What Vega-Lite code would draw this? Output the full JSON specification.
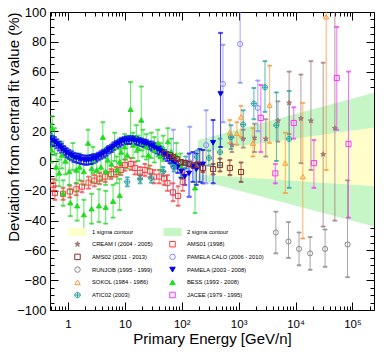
{
 "$schema": "https://vega.github.io/schema/vega-lite/v6.json",
 "width": 324, "height": 298,
 "autosize": {"type": "none"},
 "padding": {"left": 50, "top": 12, "right": 12, "bottom": 42},
 "background": "white",
 "config": {
  "view": {"stroke": "black", "strokeWidth": 1},
  "font": "Liberation Sans",
  "axis": {"domain": false, "grid": false, "labelFont": "Liberation Sans", "titleFont": "Liberation Sans", "titleFontWeight": "normal", "tickColor": "black", "labelColor": "black", "titleColor": "black", "labelOverlap": false, "labelFlush": false, "labelBound": false},
  "legend": {"orient": "none", "direction": "vertical", "gridAlign": "all", "legendX": 24, "legendY": 216, "columns": 2, "labelFontSize": 5.8, "labelFont": "Liberation Sans", "labelColor": "black", "symbolSize": 30, "symbolStrokeWidth": 1, "rowPadding": 0.7, "columnPadding": -10, "labelOffset": 11, "padding": 0, "labelLimit": 200}
 },
 "datasets": {
  "bands": [
   {"s": "2 sigma contour", "e": 193, "lo": -12.5, "hi": 14},
   {"s": "2 sigma contour", "e": 238800, "lo": -44, "hi": 45.8},
   {"s": "1 sigma contour", "e": 193, "lo": -9, "hi": 6},
   {"s": "1 sigma contour", "e": 238800, "lo": -17, "hi": 22.4}
  ],
  "pts": [
   {"s": "AMS01 (1998)", "e": 0.55, "v": -16, "lo": -20, "hi": -12},
   {"s": "AMS01 (1998)", "e": 0.59, "v": -21.5, "lo": -26, "hi": -17},
   {"s": "AMS01 (1998)", "e": 0.82, "v": -22, "lo": -26, "hi": -18},
   {"s": "AMS01 (1998)", "e": 1.08, "v": -20.5, "lo": -24.5, "hi": -16.5},
   {"s": "AMS01 (1998)", "e": 1.4, "v": -19, "lo": -23, "hi": -15},
   {"s": "AMS01 (1998)", "e": 1.76, "v": -17.2, "lo": -21, "hi": -13.5},
   {"s": "AMS01 (1998)", "e": 2.3, "v": -14.5, "lo": -18.5, "hi": -10.5},
   {"s": "AMS01 (1998)", "e": 2.9, "v": -13.2, "lo": -17, "hi": -9.5},
   {"s": "AMS01 (1998)", "e": 3.6, "v": -11.8, "lo": -15.5, "hi": -8},
   {"s": "AMS01 (1998)", "e": 4.5, "v": -10.5, "lo": -14, "hi": -7},
   {"s": "AMS01 (1998)", "e": 5.7, "v": -8.7, "lo": -12, "hi": -5.5},
   {"s": "AMS01 (1998)", "e": 7, "v": -7.2, "lo": -10.5, "hi": -4},
   {"s": "AMS01 (1998)", "e": 8.5, "v": -6, "lo": -9.5, "hi": -2.5},
   {"s": "AMS01 (1998)", "e": 10, "v": -2.7, "lo": -6.5, "hi": 1},
   {"s": "AMS01 (1998)", "e": 12.8, "v": -2, "lo": -6, "hi": 2},
   {"s": "AMS01 (1998)", "e": 15, "v": -4.7, "lo": -9, "hi": -0.5},
   {"s": "AMS01 (1998)", "e": 18.5, "v": -8, "lo": -12, "hi": -4},
   {"s": "AMS01 (1998)", "e": 22.5, "v": -6, "lo": -10, "hi": -2},
   {"s": "AMS01 (1998)", "e": 27.5, "v": -7, "lo": -11, "hi": -3},
   {"s": "AMS01 (1998)", "e": 32.5, "v": -10.5, "lo": -15, "hi": -6},
   {"s": "AMS01 (1998)", "e": 40, "v": -10.5, "lo": -15, "hi": -6},
   {"s": "AMS01 (1998)", "e": 48.6, "v": -11.7, "lo": -16, "hi": -7},
   {"s": "AMS01 (1998)", "e": 56, "v": -14.8, "lo": -20, "hi": -9.5},
   {"s": "AMS01 (1998)", "e": 70, "v": -21, "lo": -27, "hi": -15},
   {"s": "AMS01 (1998)", "e": 86, "v": -23.5, "lo": -30, "hi": -17},
   {"s": "AMS01 (1998)", "e": 104, "v": -14, "lo": -20, "hi": -8},

   {"s": "BESS (1993 - 2008)", "e": 0.5, "v": 17, "lo": 9, "hi": 25},
   {"s": "BESS (1993 - 2008)", "e": 0.53, "v": 22, "lo": 14, "hi": 30},
   {"s": "BESS (1993 - 2008)", "e": 0.51, "v": 7.4, "lo": -1, "hi": 16},
   {"s": "BESS (1993 - 2008)", "e": 0.58, "v": 13, "lo": 4, "hi": 22},
   {"s": "BESS (1993 - 2008)", "e": 0.62, "v": -4, "lo": -13, "hi": 5},
   {"s": "BESS (1993 - 2008)", "e": 0.7, "v": -8, "lo": -17, "hi": 1},
   {"s": "BESS (1993 - 2008)", "e": 0.78, "v": 4, "lo": -5, "hi": 13},
   {"s": "BESS (1993 - 2008)", "e": 0.9, "v": 0, "lo": -9, "hi": 9},
   {"s": "BESS (1993 - 2008)", "e": 1.05, "v": -7, "lo": -16, "hi": 2},
   {"s": "BESS (1993 - 2008)", "e": 1.22, "v": 3, "lo": -6, "hi": 12},
   {"s": "BESS (1993 - 2008)", "e": 1.4, "v": -6, "lo": -15, "hi": 3},
   {"s": "BESS (1993 - 2008)", "e": 1.6, "v": -4, "lo": -13, "hi": 5},
   {"s": "BESS (1993 - 2008)", "e": 1.9, "v": -7, "lo": -16, "hi": 2},
   {"s": "BESS (1993 - 2008)", "e": 2.25, "v": 12, "lo": 3, "hi": 21},
   {"s": "BESS (1993 - 2008)", "e": 2.6, "v": -5, "lo": -14, "hi": 4},
   {"s": "BESS (1993 - 2008)", "e": 2.75, "v": 0.7, "lo": -8, "hi": 9.5},
   {"s": "BESS (1993 - 2008)", "e": 3.2, "v": -6, "lo": -15, "hi": 3},
   {"s": "BESS (1993 - 2008)", "e": 3.8, "v": -4, "lo": -13, "hi": 5},
   {"s": "BESS (1993 - 2008)", "e": 4.1, "v": 16, "lo": 6, "hi": 26},
   {"s": "BESS (1993 - 2008)", "e": 4.6, "v": -7, "lo": -16, "hi": 2},
   {"s": "BESS (1993 - 2008)", "e": 5, "v": 0.7, "lo": -8, "hi": 9.5},
   {"s": "BESS (1993 - 2008)", "e": 5.8, "v": -2, "lo": -11, "hi": 7},
   {"s": "BESS (1993 - 2008)", "e": 6.6, "v": 9.6, "lo": 0, "hi": 19},
   {"s": "BESS (1993 - 2008)", "e": 7.2, "v": -6, "lo": -15, "hi": 3},
   {"s": "BESS (1993 - 2008)", "e": 8.1, "v": -0.4, "lo": -9, "hi": 8},
   {"s": "BESS (1993 - 2008)", "e": 8.6, "v": 6, "lo": -3, "hi": 15},
   {"s": "BESS (1993 - 2008)", "e": 9.9, "v": 9.6, "lo": 1, "hi": 18},
   {"s": "BESS (1993 - 2008)", "e": 11, "v": 4, "lo": -5, "hi": 13},
   {"s": "BESS (1993 - 2008)", "e": 12.6, "v": 34.7, "lo": 17, "hi": 53},
   {"s": "BESS (1993 - 2008)", "e": 13.9, "v": 10.7, "lo": 2, "hi": 19},
   {"s": "BESS (1993 - 2008)", "e": 15.9, "v": 15, "lo": 6, "hi": 24},
   {"s": "BESS (1993 - 2008)", "e": 17, "v": 8.5, "lo": 0, "hi": 17},
   {"s": "BESS (1993 - 2008)", "e": 19.4, "v": 27.5, "lo": 7, "hi": 50},
   {"s": "BESS (1993 - 2008)", "e": 20.8, "v": 12, "lo": 3, "hi": 21},
   {"s": "BESS (1993 - 2008)", "e": 23.8, "v": 9.6, "lo": 1, "hi": 18},
   {"s": "BESS (1993 - 2008)", "e": 26, "v": 4, "lo": -5, "hi": 13},
   {"s": "BESS (1993 - 2008)", "e": 29, "v": 10.7, "lo": 2, "hi": 19},
   {"s": "BESS (1993 - 2008)", "e": 33, "v": 7.4, "lo": -1, "hi": 16},
   {"s": "BESS (1993 - 2008)", "e": 38, "v": 12, "lo": 3, "hi": 21},
   {"s": "BESS (1993 - 2008)", "e": 42, "v": 3, "lo": -6, "hi": 12},
   {"s": "BESS (1993 - 2008)", "e": 47, "v": 8.5, "lo": 0, "hi": 17},
   {"s": "BESS (1993 - 2008)", "e": 57, "v": 13, "lo": 4, "hi": 22},
   {"s": "BESS (1993 - 2008)", "e": 65, "v": 6.3, "lo": -2, "hi": 15},
   {"s": "BESS (1993 - 2008)", "e": 80, "v": 4, "lo": -4, "hi": 12},
   {"s": "BESS (1993 - 2008)", "e": 95, "v": -3, "lo": -11, "hi": 5},
   {"s": "BESS (1993 - 2008)", "e": 171, "v": -18, "lo": -35, "hi": -2},
   {"s": "BESS (1993 - 2008)", "e": 0.82, "v": -21.6, "lo": -30, "hi": -13},
   {"s": "BESS (1993 - 2008)", "e": 1.1, "v": -28, "lo": -37, "hi": -19},
   {"s": "BESS (1993 - 2008)", "e": 1.45, "v": -30, "lo": -40, "hi": -20},
   {"s": "BESS (1993 - 2008)", "e": 1.9, "v": -36, "lo": -46, "hi": -26},
   {"s": "BESS (1993 - 2008)", "e": 2.6, "v": -32, "lo": -42, "hi": -22},
   {"s": "BESS (1993 - 2008)", "e": 3.5, "v": -30, "lo": -41, "hi": -19},
   {"s": "BESS (1993 - 2008)", "e": 4.6, "v": -31, "lo": -42, "hi": -20},
   {"s": "BESS (1993 - 2008)", "e": 6.2, "v": -27, "lo": -38, "hi": -16},
   {"s": "BESS (1993 - 2008)", "e": 8.1, "v": -23, "lo": -33, "hi": -12},

   {"s": "PAMELA (2003 - 2008)", "e": 0.48, "v": 15.5, "lo": 12.5, "hi": 18.5},
   {"s": "PAMELA (2003 - 2008)", "e": 0.53, "v": 14, "lo": 11, "hi": 17},
   {"s": "PAMELA (2003 - 2008)", "e": 0.58, "v": 13, "lo": 10, "hi": 16},
   {"s": "PAMELA (2003 - 2008)", "e": 0.64, "v": 11.5, "lo": 8.5, "hi": 14.5},
   {"s": "PAMELA (2003 - 2008)", "e": 0.7, "v": 10, "lo": 7, "hi": 13},
   {"s": "PAMELA (2003 - 2008)", "e": 0.77, "v": 8.5, "lo": 5.5, "hi": 11.5},
   {"s": "PAMELA (2003 - 2008)", "e": 0.85, "v": 7, "lo": 4, "hi": 10},
   {"s": "PAMELA (2003 - 2008)", "e": 0.94, "v": 5.5, "lo": 2.5, "hi": 8.5},
   {"s": "PAMELA (2003 - 2008)", "e": 1.04, "v": 4.5, "lo": 1.5, "hi": 7.5},
   {"s": "PAMELA (2003 - 2008)", "e": 1.15, "v": 3.5, "lo": 0.5, "hi": 6.5},
   {"s": "PAMELA (2003 - 2008)", "e": 1.27, "v": 2.5, "lo": -0.5, "hi": 5.5},
   {"s": "PAMELA (2003 - 2008)", "e": 1.4, "v": 2, "lo": -1, "hi": 5},
   {"s": "PAMELA (2003 - 2008)", "e": 1.55, "v": 1.5, "lo": -1.5, "hi": 4.5},
   {"s": "PAMELA (2003 - 2008)", "e": 1.7, "v": 1, "lo": -2, "hi": 4},
   {"s": "PAMELA (2003 - 2008)", "e": 1.9, "v": 0.7, "lo": -2.3, "hi": 3.7},
   {"s": "PAMELA (2003 - 2008)", "e": 2.1, "v": 0.5, "lo": -2.5, "hi": 3.5},
   {"s": "PAMELA (2003 - 2008)", "e": 2.3, "v": 0.7, "lo": -2.3, "hi": 3.7},
   {"s": "PAMELA (2003 - 2008)", "e": 2.55, "v": 1, "lo": -2, "hi": 4},
   {"s": "PAMELA (2003 - 2008)", "e": 2.8, "v": 1.5, "lo": -1.5, "hi": 4.5},
   {"s": "PAMELA (2003 - 2008)", "e": 3.1, "v": 2, "lo": -0.5, "hi": 4.5},
   {"s": "PAMELA (2003 - 2008)", "e": 3.4, "v": 3, "lo": 0.5, "hi": 5.5},
   {"s": "PAMELA (2003 - 2008)", "e": 3.8, "v": 4, "lo": 1.5, "hi": 6.5},
   {"s": "PAMELA (2003 - 2008)", "e": 4.2, "v": 5, "lo": 2.5, "hi": 7.5},
   {"s": "PAMELA (2003 - 2008)", "e": 4.7, "v": 6, "lo": 3.5, "hi": 8.5},
   {"s": "PAMELA (2003 - 2008)", "e": 5.2, "v": 7.5, "lo": 5, "hi": 10},
   {"s": "PAMELA (2003 - 2008)", "e": 5.8, "v": 8.5, "lo": 6, "hi": 11},
   {"s": "PAMELA (2003 - 2008)", "e": 6.4, "v": 10, "lo": 7.5, "hi": 12.5},
   {"s": "PAMELA (2003 - 2008)", "e": 7.1, "v": 11, "lo": 8.5, "hi": 13.5},
   {"s": "PAMELA (2003 - 2008)", "e": 7.9, "v": 12, "lo": 9.5, "hi": 14.5},
   {"s": "PAMELA (2003 - 2008)", "e": 8.7, "v": 13, "lo": 10.5, "hi": 15.5},
   {"s": "PAMELA (2003 - 2008)", "e": 9.7, "v": 13.5, "lo": 11, "hi": 16},
   {"s": "PAMELA (2003 - 2008)", "e": 10.7, "v": 14, "lo": 11.5, "hi": 16.5},
   {"s": "PAMELA (2003 - 2008)", "e": 11.8, "v": 14, "lo": 11.5, "hi": 16.5},
   {"s": "PAMELA (2003 - 2008)", "e": 13.1, "v": 14, "lo": 11.5, "hi": 16.5},
   {"s": "PAMELA (2003 - 2008)", "e": 14.5, "v": 14, "lo": 11.5, "hi": 16.5},
   {"s": "PAMELA (2003 - 2008)", "e": 16, "v": 13.5, "lo": 11, "hi": 16},
   {"s": "PAMELA (2003 - 2008)", "e": 17.8, "v": 13, "lo": 10.5, "hi": 15.5},
   {"s": "PAMELA (2003 - 2008)", "e": 19.7, "v": 12.5, "lo": 10, "hi": 15},
   {"s": "PAMELA (2003 - 2008)", "e": 21.8, "v": 12, "lo": 9.5, "hi": 14.5},
   {"s": "PAMELA (2003 - 2008)", "e": 24, "v": 11.5, "lo": 9, "hi": 14},
   {"s": "PAMELA (2003 - 2008)", "e": 27, "v": 10.5, "lo": 8, "hi": 13},
   {"s": "PAMELA (2003 - 2008)", "e": 30, "v": 10, "lo": 7, "hi": 13},
   {"s": "PAMELA (2003 - 2008)", "e": 33, "v": 9, "lo": 6, "hi": 12},
   {"s": "PAMELA (2003 - 2008)", "e": 37, "v": 8, "lo": 5, "hi": 11},
   {"s": "PAMELA (2003 - 2008)", "e": 41, "v": 7, "lo": 4, "hi": 10},
   {"s": "PAMELA (2003 - 2008)", "e": 45, "v": 6, "lo": 3, "hi": 9},
   {"s": "PAMELA (2003 - 2008)", "e": 50, "v": 4.5, "lo": 1.5, "hi": 7.5},
   {"s": "PAMELA (2003 - 2008)", "e": 56, "v": 3, "lo": 0, "hi": 6},
   {"s": "PAMELA (2003 - 2008)", "e": 62, "v": 1.5, "lo": -1.5, "hi": 4.5},
   {"s": "PAMELA (2003 - 2008)", "e": 69, "v": 0, "lo": -3.5, "hi": 3.5},
   {"s": "PAMELA (2003 - 2008)", "e": 76, "v": -1.5, "lo": -5, "hi": 2},
   {"s": "PAMELA (2003 - 2008)", "e": 85, "v": -4, "lo": -8, "hi": 0},
   {"s": "PAMELA (2003 - 2008)", "e": 98, "v": -7, "lo": -11.5, "hi": -2.5},
   {"s": "PAMELA (2003 - 2008)", "e": 113, "v": -10.5, "lo": -16, "hi": -5},
   {"s": "PAMELA (2003 - 2008)", "e": 134, "v": -8.3, "lo": -24, "hi": 5},
   {"s": "PAMELA (2003 - 2008)", "e": 157, "v": -3.8, "lo": -14, "hi": 6},
   {"s": "PAMELA (2003 - 2008)", "e": 180, "v": -5.6, "lo": -16, "hi": 5},
   {"s": "PAMELA (2003 - 2008)", "e": 207, "v": -2.7, "lo": -14, "hi": 8},
   {"s": "PAMELA (2003 - 2008)", "e": 235, "v": -2.2, "lo": -15, "hi": 7.4},
   {"s": "PAMELA (2003 - 2008)", "e": 355, "v": 12.3, "lo": -15, "hi": 27.5},
   {"s": "PAMELA (2003 - 2008)", "e": 480, "v": 45, "lo": 9.4, "hi": 86},

   {"s": "PAMELA CALO (2006 - 2010)", "e": 71, "v": -4, "lo": -23, "hi": 21},
   {"s": "PAMELA CALO (2006 - 2010)", "e": 138, "v": -1, "lo": -24, "hi": 23},
   {"s": "PAMELA CALO (2006 - 2010)", "e": 268, "v": 10.7, "lo": -15, "hi": 34},
   {"s": "PAMELA CALO (2006 - 2010)", "e": 530, "v": 51.7, "lo": 26, "hi": 78},
   {"s": "PAMELA CALO (2006 - 2010)", "e": 1060, "v": 78.5, "lo": 52.5, "hi": 105},
   {"s": "PAMELA CALO (2006 - 2010)", "e": 2170, "v": 35.6, "lo": 20, "hi": 54},

   {"s": "ATIC02 (2003)", "e": 11, "v": -14, "lo": -17, "hi": -11},
   {"s": "ATIC02 (2003)", "e": 18.5, "v": -12, "lo": -15, "hi": -9},
   {"s": "ATIC02 (2003)", "e": 29, "v": -11.5, "lo": -14.5, "hi": -8.5},
   {"s": "ATIC02 (2003)", "e": 47, "v": -7, "lo": -10, "hi": -4},
   {"s": "ATIC02 (2003)", "e": 73, "v": -4, "lo": -7, "hi": -1},
   {"s": "ATIC02 (2003)", "e": 118, "v": -1, "lo": -5, "hi": 3},
   {"s": "ATIC02 (2003)", "e": 185, "v": 2.7, "lo": -1.5, "hi": 7},
   {"s": "ATIC02 (2003)", "e": 300, "v": 2, "lo": -3, "hi": 7},
   {"s": "ATIC02 (2003)", "e": 470, "v": 6, "lo": -3, "hi": 15},
   {"s": "ATIC02 (2003)", "e": 730, "v": 16, "lo": 8, "hi": 24},
   {"s": "ATIC02 (2003)", "e": 1200, "v": 24.5, "lo": 15, "hi": 34},
   {"s": "ATIC02 (2003)", "e": 1850, "v": 38.5, "lo": 28, "hi": 49},
   {"s": "ATIC02 (2003)", "e": 2900, "v": 49.5, "lo": 33, "hi": 67},
   {"s": "ATIC02 (2003)", "e": 4600, "v": 24, "lo": 0, "hi": 46},
   {"s": "ATIC02 (2003)", "e": 7700, "v": 14.8, "lo": -18, "hi": 47},

   {"s": "AMS02 (2011 - 2013)", "e": 50, "v": 5, "lo": 4, "hi": 6},
   {"s": "AMS02 (2011 - 2013)", "e": 62, "v": 4, "lo": 3, "hi": 5},
   {"s": "AMS02 (2011 - 2013)", "e": 70, "v": 2.7, "lo": 1.7, "hi": 3.7},
   {"s": "AMS02 (2011 - 2013)", "e": 82, "v": 1.3, "lo": 0.3, "hi": 2.3},
   {"s": "AMS02 (2011 - 2013)", "e": 97, "v": -0.7, "lo": -1.8, "hi": 0.4},
   {"s": "AMS02 (2011 - 2013)", "e": 114, "v": -1.3, "lo": -2.5, "hi": 0},
   {"s": "AMS02 (2011 - 2013)", "e": 133, "v": -2, "lo": -3.5, "hi": -0.5},
   {"s": "AMS02 (2011 - 2013)", "e": 160, "v": -3, "lo": -4.5, "hi": -1.5},
   {"s": "AMS02 (2011 - 2013)", "e": 190, "v": -2.7, "lo": -5, "hi": -0.4},
   {"s": "AMS02 (2011 - 2013)", "e": 235, "v": -4.7, "lo": -7.5, "hi": -2},
   {"s": "AMS02 (2011 - 2013)", "e": 355, "v": -5.4, "lo": -9, "hi": -2},
   {"s": "AMS02 (2011 - 2013)", "e": 470, "v": -2.7, "lo": -7, "hi": 1.6},
   {"s": "AMS02 (2011 - 2013)", "e": 700, "v": -4.7, "lo": -9.5, "hi": 0.5},
   {"s": "AMS02 (2011 - 2013)", "e": 1100, "v": -7.4, "lo": -14, "hi": -1},

   {"s": "CREAM I (2004 - 2005)", "e": 760, "v": 10.7, "lo": 6, "hi": 16},
   {"s": "CREAM I (2004 - 2005)", "e": 1200, "v": 14.8, "lo": 9, "hi": 21},
   {"s": "CREAM I (2004 - 2005)", "e": 1900, "v": 15.4, "lo": 6, "hi": 25},
   {"s": "CREAM I (2004 - 2005)", "e": 3000, "v": 14.8, "lo": 3, "hi": 28},
   {"s": "CREAM I (2004 - 2005)", "e": 4900, "v": 27, "lo": 13, "hi": 40},
   {"s": "CREAM I (2004 - 2005)", "e": 7700, "v": 39, "lo": 18, "hi": 60},
   {"s": "CREAM I (2004 - 2005)", "e": 12400, "v": 28.5, "lo": -1.5, "hi": 58},
   {"s": "CREAM I (2004 - 2005)", "e": 18600, "v": 27, "lo": -6, "hi": 67},
   {"s": "CREAM I (2004 - 2005)", "e": 30500, "v": 4.5, "lo": -44, "hi": 66},
   {"s": "CREAM I (2004 - 2005)", "e": 49000, "v": 22, "lo": -40, "hi": 105},

   {"s": "SOKOL (1984 - 1986)", "e": 700, "v": 19, "lo": 12, "hi": 27.5},
   {"s": "SOKOL (1984 - 1986)", "e": 930, "v": 18.6, "lo": 11, "hi": 26},
   {"s": "SOKOL (1984 - 1986)", "e": 1100, "v": 29.6, "lo": 16, "hi": 37},
   {"s": "SOKOL (1984 - 1986)", "e": 1780, "v": 12, "lo": 3, "hi": 22},
   {"s": "SOKOL (1984 - 1986)", "e": 3500, "v": 37.5, "lo": 12, "hi": 64},
   {"s": "SOKOL (1984 - 1986)", "e": 6600, "v": -1.4, "lo": -21.5, "hi": 19},
   {"s": "SOKOL (1984 - 1986)", "e": 13400, "v": -10.5, "lo": -52, "hi": 39},
   {"s": "SOKOL (1984 - 1986)", "e": 34500, "v": 96.8, "lo": -6, "hi": 110},

   {"s": "JACEE (1979 - 1995)", "e": 2450, "v": 28.9, "lo": 6, "hi": 51},
   {"s": "JACEE (1979 - 1995)", "e": 4400, "v": -8.3, "lo": -15, "hi": -2},
   {"s": "JACEE (1979 - 1995)", "e": 9300, "v": 25.5, "lo": 15, "hi": 36},
   {"s": "JACEE (1979 - 1995)", "e": 21000, "v": -1.4, "lo": -18, "hi": 14},
   {"s": "JACEE (1979 - 1995)", "e": 53000, "v": 55.7, "lo": 21, "hi": 90},
   {"s": "JACEE (1979 - 1995)", "e": 85000, "v": 11.4, "lo": -38, "hi": 60},

   {"s": "RUNJOB (1995 - 1999)", "e": 4500, "v": -48, "lo": -62, "hi": -34},
   {"s": "RUNJOB (1995 - 1999)", "e": 7500, "v": -54, "lo": -65, "hi": -41},
   {"s": "RUNJOB (1995 - 1999)", "e": 11500, "v": -59, "lo": -70, "hi": -48},
   {"s": "RUNJOB (1995 - 1999)", "e": 18000, "v": -62, "lo": -73, "hi": -51},
   {"s": "RUNJOB (1995 - 1999)", "e": 33000, "v": -59, "lo": -71, "hi": -46},
   {"s": "RUNJOB (1995 - 1999)", "e": 82000, "v": -56, "lo": -78, "hi": -13}
  ]
 },
 "resolve": {"axis": {"x": "independent", "y": "independent"}},
 "layer": [
  {
   "data": {"name": "bands"},
   "transform": [{"filter": "datum.s == '2 sigma contour'"}],
   "mark": {"type": "area", "clip": true},
   "encoding": {
    "x": {"field": "e", "type": "quantitative", "scale": {"type": "log", "domain": [0.483, 238800], "nice": false}, "axis": null},
    "y": {"field": "lo", "type": "quantitative", "scale": {"domain": [-100, 100], "nice": false, "zero": false}, "axis": null},
    "y2": {"field": "hi"},
    "fill": {"field": "s", "type": "nominal", "title": null, "scale": {"domain": ["1 sigma contour","CREAM I (2004 - 2005)","AMS02 (2011 - 2013)","RUNJOB (1995 - 1999)","SOKOL (1984 - 1986)","ATIC02 (2003)","2 sigma contour","AMS01 (1998)","PAMELA CALO (2006 - 2010)","PAMELA (2003 - 2008)","BESS (1993 - 2008)","JACEE (1979 - 1995)"], "range": ["#ffffcc","#a07878","transparent","transparent","transparent","transparent","#c6f5c6","transparent","transparent","#0000ee","#22dd22","transparent"]}}
   }
  },
  {
   "data": {"name": "bands"},
   "transform": [{"filter": "datum.s == '1 sigma contour'"}],
   "mark": {"type": "area", "clip": true},
   "encoding": {
    "x": {"field": "e", "type": "quantitative", "axis": null},
    "y": {"field": "lo", "type": "quantitative", "axis": null},
    "y2": {"field": "hi"},
    "fill": {"field": "s", "type": "nominal", "title": null}
   }
  },
  {
   "mark": {"type": "rule", "color": "#333333", "strokeWidth": 1},
   "encoding": {"y": {"datum": 0, "type": "quantitative", "axis": null}}
  },
  {
   "data": {"name": "pts"},
   "mark": {"type": "rule", "strokeWidth": 1, "opacity": 0.75, "clip": true},
   "encoding": {
    "x": {"field": "e", "type": "quantitative", "axis": {"orient": "bottom", "values": [0.5,0.6,0.7,0.8,0.9,1,2,3,4,5,6,7,8,9,10,20,30,40,50,60,70,80,90,100,200,300,400,500,600,700,800,900,1000,2000,3000,4000,5000,6000,7000,8000,9000,10000,20000,30000,40000,50000,60000,70000,80000,90000,100000,200000], "labelExpr": "datum.value == 1 ? '1' : datum.value == 10 ? '10' : datum.value == 100 ? '10²' : datum.value == 1000 ? '10³' : datum.value == 10000 ? '10⁴' : datum.value == 100000 ? '10⁵' : ''", "tickSize": {"condition": {"test": "indexof([1,10,100,1000,10000,100000], datum.value) >= 0", "value": -8}, "value": -4}, "labelPadding": 16, "labelFontSize": 11.5, "title": "Primary Energy [GeV/n]", "titleFontSize": 15, "titleY": 21.5}},
    "y": {"field": "lo", "type": "quantitative", "axis": {"orient": "left", "values": [-100,-95,-90,-85,-80,-75,-70,-65,-60,-55,-50,-45,-40,-35,-30,-25,-20,-15,-10,-5,0,5,10,15,20,25,30,35,40,45,50,55,60,65,70,75,80,85,90,95,100], "labelExpr": "datum.value % 20 == 0 ? format(datum.value, 'd') : ''", "tickSize": {"condition": {"test": "datum.value % 20 == 0", "value": -8}, "value": -4}, "labelPadding": 12, "labelFontSize": 13, "title": "Deviation from central fit value (%)", "titleFontSize": 15, "titleAnchor": "end", "titleX": -29}},
    "y2": {"field": "hi"},
    "stroke": {"field": "s", "type": "nominal", "title": null, "scale": {"domain": ["1 sigma contour","CREAM I (2004 - 2005)","AMS02 (2011 - 2013)","RUNJOB (1995 - 1999)","SOKOL (1984 - 1986)","ATIC02 (2003)","2 sigma contour","AMS01 (1998)","PAMELA CALO (2006 - 2010)","PAMELA (2003 - 2008)","BESS (1993 - 2008)","JACEE (1979 - 1995)"], "range": ["#ffffcc","#a07878","#8b2e2e","#888888","#ff9933","#20a0a0","#c6f5c6","#ff3b3b","#8888ff","#0000ee","#22dd22","#ff33ff"]}}
   }
  },
  {
   "data": {"name": "pts"},
   "transform": [{"fold": ["lo", "hi"], "as": ["k", "yv"]}],
   "mark": {"type": "tick", "orient": "horizontal", "size": 4, "thickness": 1, "opacity": 0.75, "clip": true},
   "encoding": {
    "x": {"field": "e", "type": "quantitative", "axis": {"orient": "top", "values": [0.5,0.6,0.7,0.8,0.9,1,2,3,4,5,6,7,8,9,10,20,30,40,50,60,70,80,90,100,200,300,400,500,600,700,800,900,1000,2000,3000,4000,5000,6000,7000,8000,9000,10000,20000,30000,40000,50000,60000,70000,80000,90000,100000,200000], "labels": false, "title": null, "tickSize": {"condition": {"test": "indexof([1,10,100,1000,10000,100000], datum.value) >= 0", "value": -8}, "value": -4}}},
    "y": {"field": "yv", "type": "quantitative", "axis": {"orient": "right", "values": [-100,-95,-90,-85,-80,-75,-70,-65,-60,-55,-50,-45,-40,-35,-30,-25,-20,-15,-10,-5,0,5,10,15,20,25,30,35,40,45,50,55,60,65,70,75,80,85,90,95,100], "labels": false, "title": null, "tickSize": {"condition": {"test": "datum.value % 20 == 0", "value": -8}, "value": -4}}},
    "stroke": {"field": "s", "type": "nominal", "title": null}
   }
  },
  {
   "data": {"name": "pts"},
   "mark": {"type": "point", "size": 26, "strokeWidth": 1, "opacity": 1, "clip": true},
   "encoding": {
    "x": {"field": "e", "type": "quantitative", "axis": null},
    "y": {"field": "v", "type": "quantitative", "axis": null},
    "stroke": {"field": "s", "type": "nominal", "title": null},
    "fill": {"field": "s", "type": "nominal", "title": null},
    "shape": {"field": "s", "type": "nominal", "title": null, "scale": {"domain": ["1 sigma contour","CREAM I (2004 - 2005)","AMS02 (2011 - 2013)","RUNJOB (1995 - 1999)","SOKOL (1984 - 1986)","ATIC02 (2003)","2 sigma contour","AMS01 (1998)","PAMELA CALO (2006 - 2010)","PAMELA (2003 - 2008)","BESS (1993 - 2008)","JACEE (1979 - 1995)"], "range": ["M-3.1,-1.3H3.1V1.3H-3.1Z","M0,-1L0.235,-0.324L0.951,-0.309L0.38,0.124L0.588,0.809L0,0.4L-0.588,0.809L-0.38,0.124L-0.951,-0.309L-0.235,-0.324Z","square","circle","triangle-up","M-1,0A1,1 0 1,1 1,0A1,1 0 1,1 -1,0ZM-1,0L1,0M0,-1L0,1","M-3.1,-1.3H3.1V1.3H-3.1Z","square","circle","triangle-down","triangle-up","square"]}}
   }
  }
 ]
}
